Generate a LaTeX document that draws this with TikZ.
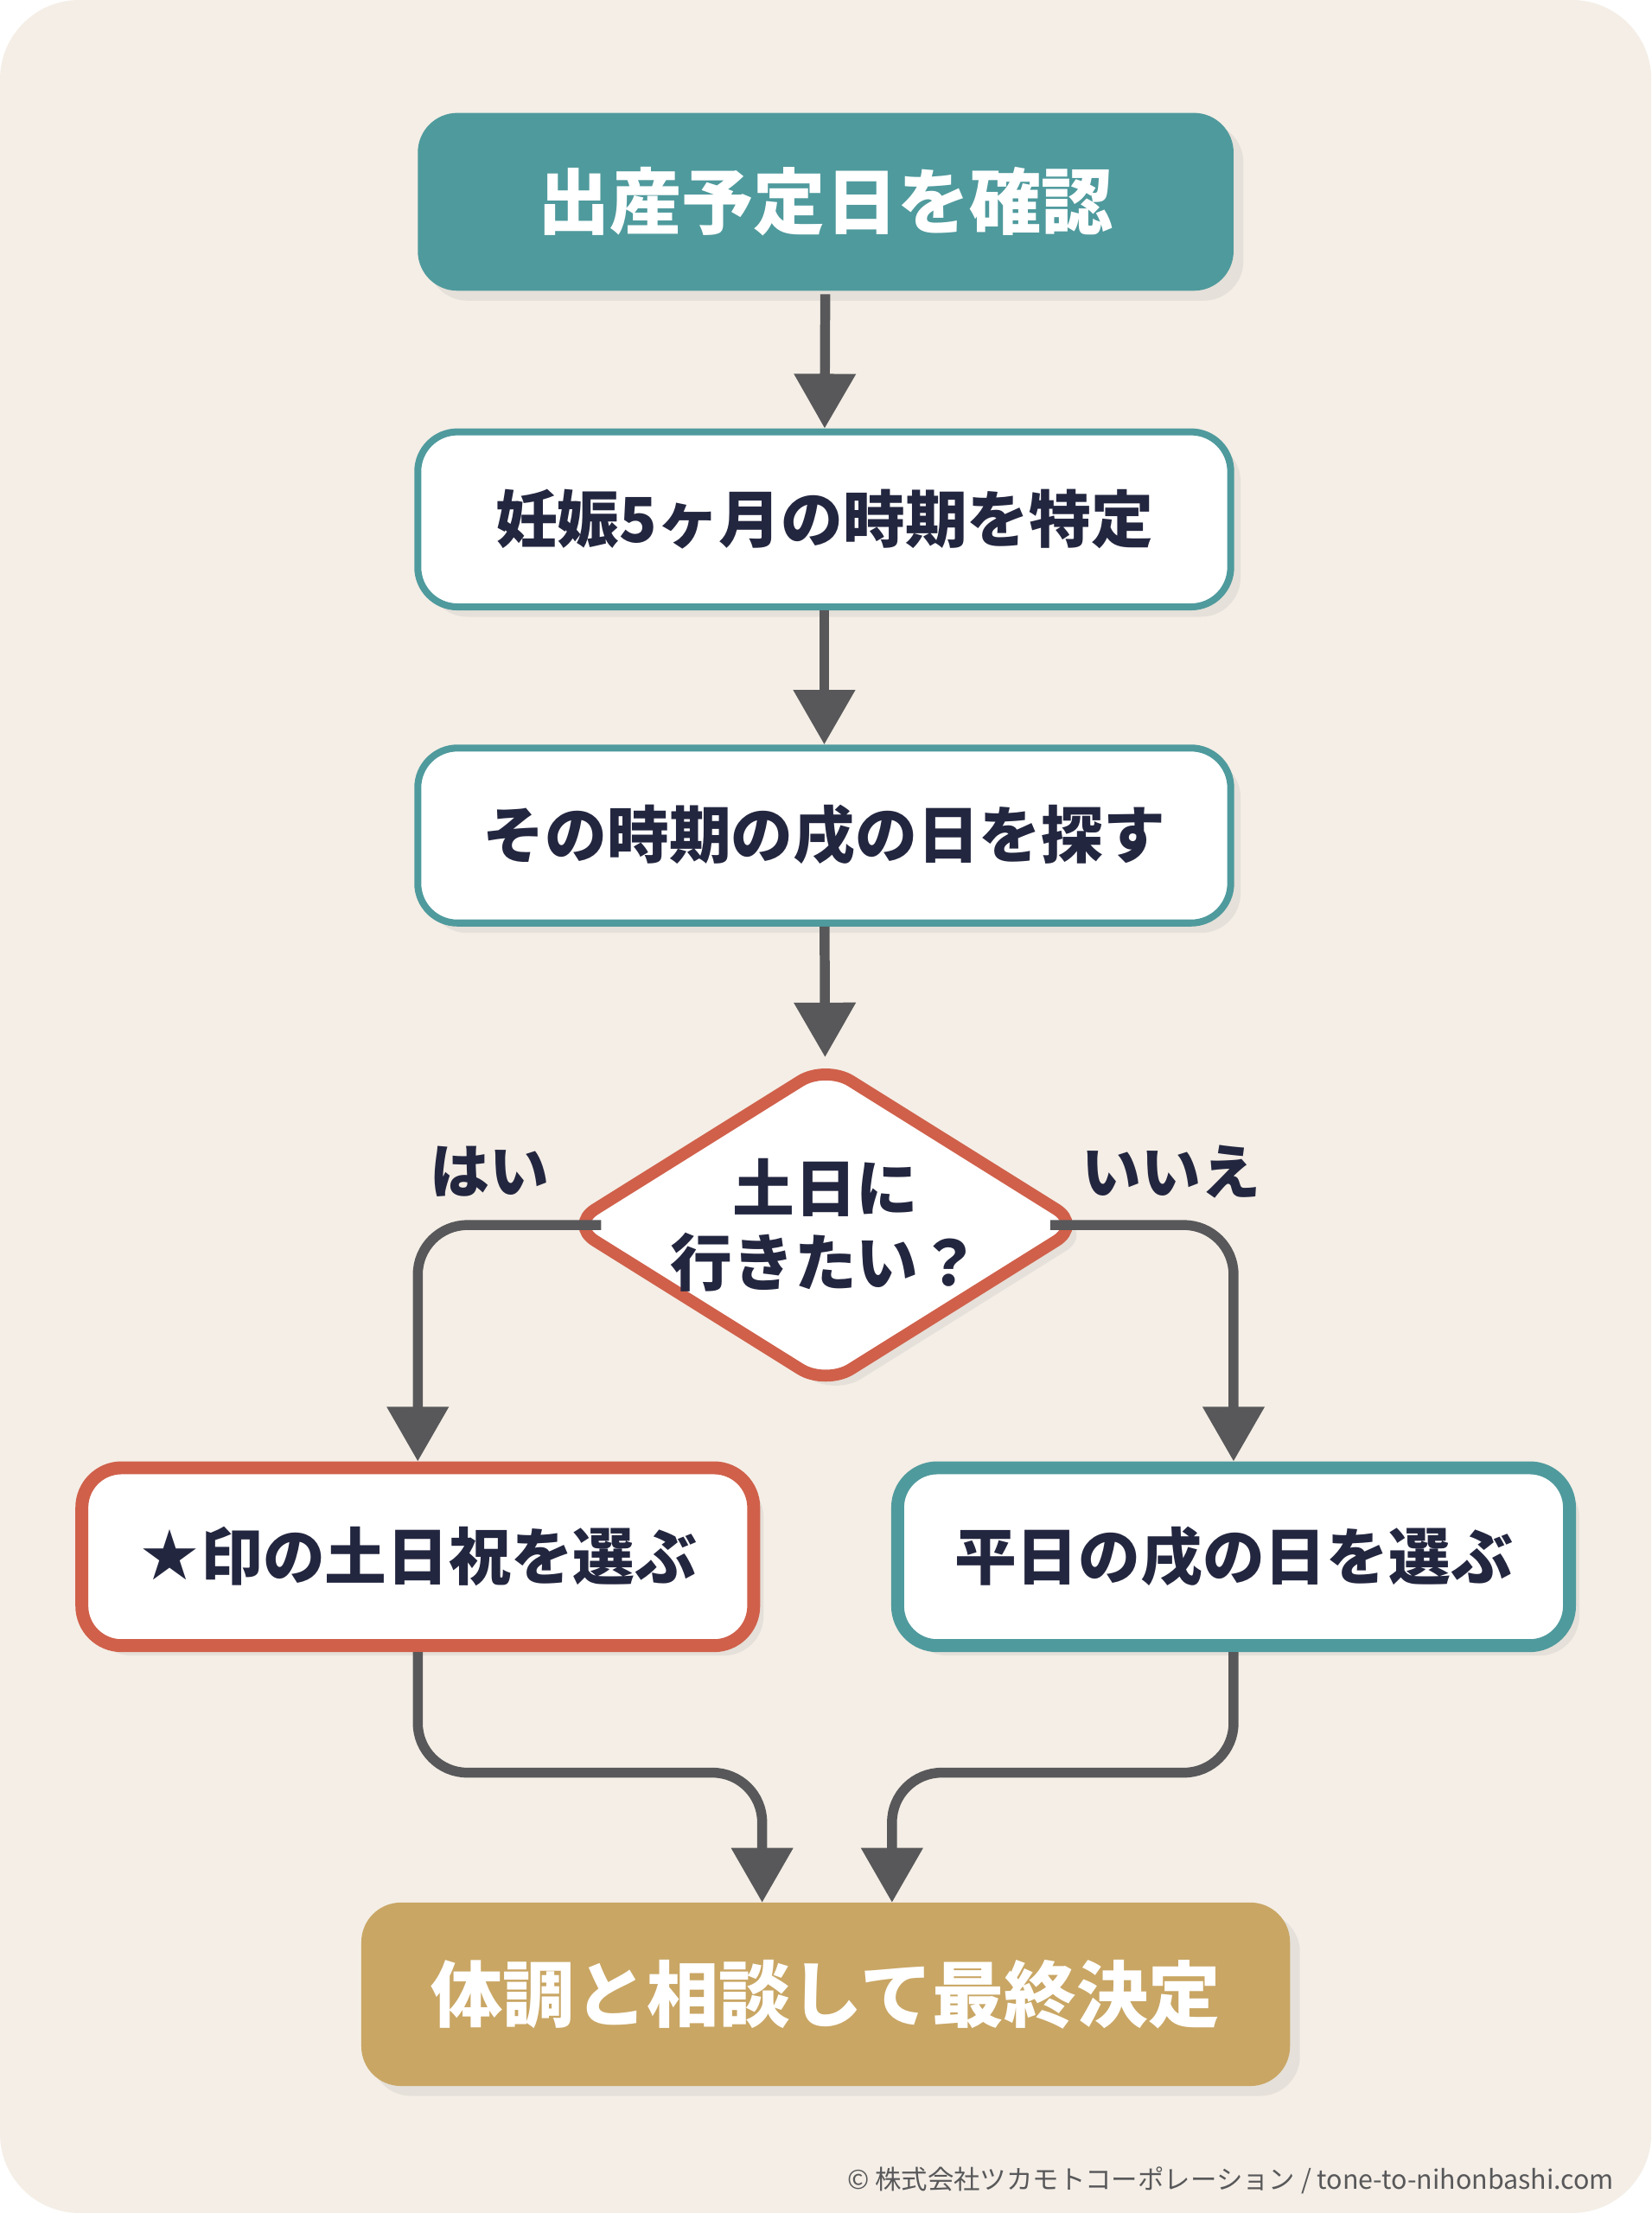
\documentclass[tikz,border=0pt]{standalone}
\usepackage{fontspec}
\setmainfont{Noto Sans CJK JP}
\newfontfamily\footfont{Noto Sans CJK JP}
\usetikzlibrary{shapes.geometric,arrows.meta,shadows}
\definecolor{bgpaper}{HTML}{F4EEE6}
\definecolor{tealbox}{HTML}{4F9A9D}
\definecolor{redline}{HTML}{D0604A}
\definecolor{goldbox}{HTML}{C9A664}
\definecolor{navytext}{HTML}{23263F}
\definecolor{arrowgray}{HTML}{58585A}

\begin{document}
\begin{tikzpicture}[x=1cm,y=1cm]
	\tikzstyle{stepbox}=[rectangle,rounded corners=8pt,minimum width=5.76cm,minimum height=1.24cm,
		draw=tealbox,line width=1.4pt,fill=white,text=navytext,font=\bfseries\fontsize{12.5}{14}\selectfont,
		drop shadow={opacity=0.12,shadow xshift=2pt,shadow yshift=-2pt}]
	\tikzstyle{solid box}=[stepbox,draw=none,text=white,font=\bfseries\fontsize{14.5}{16}\selectfont]
	\tikzstyle{choice}=[stepbox,minimum width=4.76cm,minimum height=1.26cm,line width=2.6pt]
	\tikzstyle{flow}=[draw=arrowgray,line width=2pt,rounded corners=10pt,-{Triangle[length=11pt,width=12pt]}]
	\tikzstyle{answer}=[text=navytext,font=\bfseries\fontsize{12}{14}\selectfont]
	% paper
	\fill[bgpaper,rounded corners=16pt] (0,0) rectangle (11.70,-15.68);
	\useasboundingbox (0,0) rectangle (11.70,-15.68);
	% boxes
	\node[solid box,fill=tealbox,minimum width=5.78cm,minimum height=1.26cm] (due) at (5.85,-1.43) {出産予定日を確認};
	\node[stepbox] (month) at (5.84,-3.68) {妊娠5ヶ月の時期を特定};
	\node[stepbox] (search) at (5.84,-5.92) {その時期の戌の日を探す};
	\node[diamond,draw=redline,line width=2.4pt,fill=white,rounded corners=6pt,
		minimum width=3.66cm,minimum height=2.30cm,inner sep=0pt,
		drop shadow={opacity=0.12,shadow xshift=2pt,shadow yshift=-2pt}] (weekend) at (5.85,-8.68) {};
	\node[align=center,text=navytext,font=\bfseries\fontsize{12.5}{15}\selectfont] (question) at (weekend.center) {土日に\\行きたい？};
	\node[choice,draw=redline] (holiday) at (2.96,-11.03) {{\fontspec{DejaVu Sans}\fontsize{14}{14}\selectfont★}印の土日祝を選ぶ};
	\node[choice] (weekday) at (8.74,-11.03) {平日の戌の日を選ぶ};
	\node[solid box,fill=goldbox,minimum width=6.58cm,minimum height=1.30cm] (final) at (5.85,-14.13) {体調と相談して最終決定};
	% labels
	\node[answer] (yes) at (3.47,-8.30) {はい};
	\node[answer] (no) at (8.30,-8.30) {いいえ};
	\node[anchor=east,text=arrowgray,font=\footfont\fontsize{5.3}{7}\selectfont] (credit) at (11.56,-15.45)
		{© 株式会社ツカモトコーポレーション / tone-to-nihonbashi.com};
	% connectors
	\draw[flow] (due) -- (month);
	\draw[flow] (month) -- (search);
	\draw[flow] (search) -- (weekend);
	\draw[flow] ([xshift=8pt]weekend.west) -| (holiday.north);
	\draw[flow] ([xshift=-8pt]weekend.east) -| (weekday.north);
	\coordinate (joinl) at (5.40,-13.48);
	\coordinate (joinr) at (6.32,-13.48);
	\draw[flow] (holiday.south) |- (5.40,-12.56) -- (joinl);
	\draw[flow] (weekday.south) |- (6.32,-12.56) -- (joinr);
\end{tikzpicture}
\end{document}
